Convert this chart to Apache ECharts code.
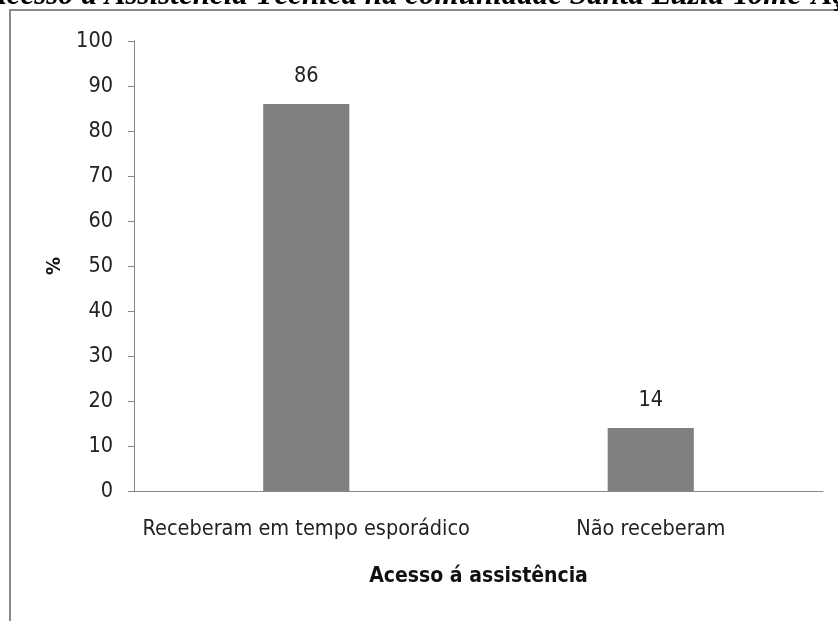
<!DOCTYPE html>
<html>
<head>
<meta charset="utf-8">
<script src="https://cdn.jsdelivr.net/npm/echarts@6/dist/echarts.min.js"></script>
<style>
  html, body { margin: 0; padding: 0; background: #fff; }
  #chart { width: 838px; height: 621px; }
</style>
</head>
<body>
<div id="chart"></div>
<script>
// Access to technical assistance (%), by group
const categories = ['Receberam em tempo esporádico', 'Não receberam'];
const values = [86, 14];
const yTicks = { min: 0, max: 100, interval: 10 };

const titleText = 'Acesso à Assistência Técnica na comunidade Santa Luzia Tomé-Açu';
const xAxisTitle = 'Acesso á assistência';
const yAxisTitle = '%';

const labelFont = '"Liberation Sans Narrow", "DejaVu Sans Condensed", "Open Sans", sans-serif';
const gray = '#868686';

const chart = echarts.init(document.getElementById('chart'), null, { renderer: 'canvas' });

chart.setOption({
  backgroundColor: '#ffffff',
  animation: false,
  grid: { left: 134, right: 15, top: 41, bottom: 130, containLabel: false },
  xAxis: {
    type: 'category',
    data: categories,
    axisLine: { show: true, lineStyle: { color: gray, width: 1 } },
    axisTick: { show: false },
    axisLabel: { interval: 0, color: '#222', fontFamily: labelFont, fontSize: 21.5, margin: 27 },
    name: xAxisTitle,
    nameLocation: 'middle',
    nameGap: 75,
    nameTextStyle: { color: '#111', fontFamily: labelFont, fontSize: 21, fontWeight: 'bold' }
  },
  yAxis: {
    type: 'value',
    min: yTicks.min,
    max: yTicks.max,
    interval: yTicks.interval,
    axisLine: { show: true, lineStyle: { color: gray, width: 1 } },
    axisTick: { show: true, length: 6, lineStyle: { color: gray } },
    splitLine: { show: false },
    axisLabel: { color: '#222', fontFamily: labelFont, fontSize: 21.5, margin: 21 },
    name: yAxisTitle,
    nameLocation: 'middle',
    nameRotate: 90,
    nameGap: 64,
    nameTextStyle: { color: '#111', fontFamily: labelFont, fontSize: 20, fontWeight: 'bold' }
  },
  series: [{
    type: 'bar',
    data: values,
    barWidth: '25%',
    itemStyle: { color: '#808080' },
    label: {
      show: true,
      position: 'top',
      distance: 17,
      color: '#222',
      fontFamily: labelFont,
      fontSize: 21.5
    }
  }],
  graphic: [
    {
      type: 'rect',
      shape: { x: 10, y: 10, width: 900, height: 700 },
      style: { fill: 'none', stroke: '#8a8a8a', lineWidth: 2 },
      silent: true
    },
    {
      type: 'text',
      x: -14,
      y: 11,
      style: {
        text: titleText,
        fontFamily: '"Liberation Serif", "Times New Roman", serif',
        fontStyle: 'italic',
        fontWeight: 'bold',
        fontSize: 31,
        fill: '#000',
        textVerticalAlign: 'bottom'
      },
      silent: true
    }
  ]
});
</script>
</body>
</html>
